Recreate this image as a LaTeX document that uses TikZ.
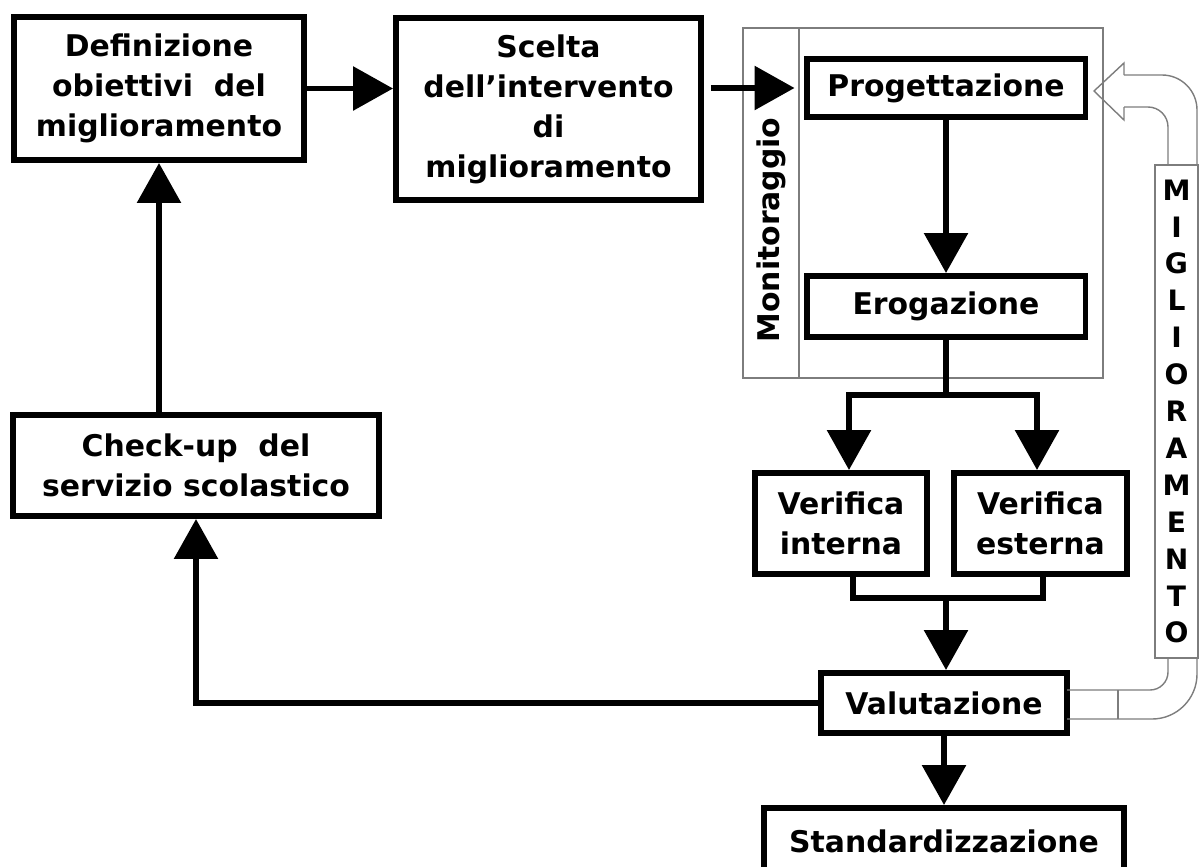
\documentclass[tikz,border=0pt]{standalone}
\usepackage{fontspec}
\setmainfont{DejaVu Sans}
\usetikzlibrary{arrows.meta,calc}
\definecolor{framegray}{RGB}{125,125,125}
\begin{document}
\begin{tikzpicture}[x=0.02cm,y=-0.02cm,
  box/.style={draw=black, line width=3.4pt, fill=white, inner sep=0pt,
    align=center, font=\fontsize{17}{22.8}\selectfont\bfseries},
  link/.style={line width=3.4pt, line join=miter},
  arr/.style={link, -{Triangle[length=0.8cm,width=0.86cm]}},
  thinline/.style={draw=framegray, line width=0.8pt},
  hollow/.style={thinline, line join=miter},
]
\useasboundingbox (0,0) rectangle (1199,866);

% monitoring frame with its side band
\node[draw=framegray, line width=0.8pt, minimum width=7.2cm, minimum height=7cm,
      inner sep=0pt, outer sep=0pt] (mon) at (923,203) {};
\draw[thinline] ($(mon.north west)+(56,0)$) -- ($(mon.south west)+(56,0)$);
\node[rotate=90, font=\fontsize{17}{20}\selectfont\bfseries] (montxt) at (771,230) {Monitoraggio};

% process boxes
\node[box, minimum width=5.8cm, minimum height=2.86cm] (def) at (159,88.5)
  {Definizione\\obiettivi\ \ del\\miglioramento};
\node[box, minimum width=6.1cm, minimum height=3.64cm] (scelta) at (548.5,109)
  {Scelta\\dell’intervento\\di\\miglioramento};
\node[box, minimum width=5.58cm, minimum height=1.16cm] (prog) at (946,88) {Progettazione};
\node[box, minimum width=5.58cm, minimum height=1.22cm] (ero) at (946,306.5) {Erogazione};
\node[box, minimum width=3.44cm, minimum height=2.02cm] (verint) at (841,523.5) {Verifica\\interna};
\node[box, minimum width=3.46cm, minimum height=2.02cm] (verext) at (1040.5,523.5) {Verifica\\esterna};
\node[box, minimum width=4.92cm, minimum height=1.2cm] (val) at (944,703) {Valutazione};
\node[box, minimum width=7.2cm, minimum height=1.32cm] (std) at (944,841) {Standardizzazione};
\node[box, minimum width=7.32cm, minimum height=2.02cm] (check) at (196,465.5)
  {Check-up\ \ del\\servizio scolastico};

% connectors
\draw[arr] (def.east) -- (def.east -| scelta.west);
\draw[arr, shorten <=0.14cm, shorten >=0.18cm] (scelta.east |- prog.west) -- (prog.west);
\draw[arr] (prog.south) -- (ero.north);

\coordinate (fj) at (946,395);
\coordinate (fl) at (849,395);
\coordinate (fr) at (1037,395);
\draw[arr] (ero.south) -- (fj) -- (fl) -- (fl |- verint.north);
\draw[arr] (fj) -- (fr) -- (fr |- verext.north);

\coordinate (ml) at (853,598);
\coordinate (mr) at (1043,598);
\coordinate (mj) at (946,598);
\draw[link] (ml |- verint.south) -- (ml) -- (mr) -- (mr |- verext.south);
\draw[arr] (mj) -- (mj |- val.north);

\draw[arr] (val.south) -- (std.north);
\draw[arr] (val.west) -- (val.west -| check.south) -- (check.south);
\draw[arr] (check.north -| def.south) -- (def.south);

% hollow feedback arrow from the evaluation back to the design
\draw[hollow, rounded corners=0.36cm] (1067,690) -- (1168,690) -- (1168,400);
\draw[hollow, rounded corners=0.4cm] (1168,400) -- (1168,107) -- (1124,107);
\draw[hollow, rounded corners=0.9cm] (1067,719) -- (1197,719) -- (1197,400);
\draw[hollow, rounded corners=0.7cm] (1197,400) -- (1197,75) -- (1124,75);
\draw[hollow] (1124,75) -- (1124,63) -- (1094,91) -- (1124,120) -- (1124,107);
\draw[hollow] (1118,690) -- (1118,719);

% vertical label band
\node[draw=framegray, fill=white, line width=0.8pt, minimum width=0.86cm,
      minimum height=9.86cm, inner sep=0pt, outer sep=0pt, align=center,
      font=\fontsize{16}{21}\selectfont\bfseries] (mig) at (1176.5,411.5)
  {M\\I\\G\\L\\I\\O\\R\\A\\M\\E\\N\\T\\O};
\end{tikzpicture}
\end{document}
